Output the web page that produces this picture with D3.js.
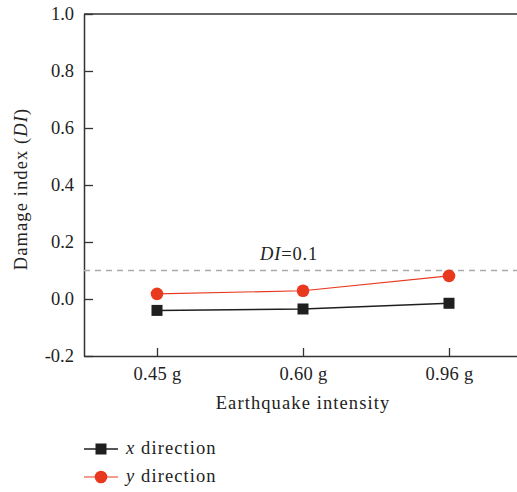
<!DOCTYPE html>
<html><head><meta charset="utf-8">
<script src="https://cdn.jsdelivr.net/npm/d3@7"></script>
<style>
html,body{margin:0;padding:0;background:#fff;}
svg{display:block;}
svg text{font-family:"Liberation Serif","Times New Roman","DejaVu Serif",serif !important;}
</style></head>
<body>
<svg id="chart" width="517" height="492"></svg>
<script>
const categories = ["0.45 g", "0.60 g", "0.96 g"];
const xDirection = [-0.040, -0.035, -0.015];
const yDirection = [0.018, 0.029, 0.081];
const yTicks = [-0.2, 0.0, 0.2, 0.4, 0.6, 0.8, 1.0];
const threshold = 0.1;

(function () {
const svg = d3.select("#chart");
const pL = 84, pR = 522, pT = 14, pB = 356;
const x = d3.scalePoint().domain(categories).range([pL, pR]).padding(0.5);
const y = d3.scaleLinear().domain([-0.2, 1.0]).range([pB, pT]);
const axisColor = "#333";
const fs = 18.5, ls = "1.1px";

// frame (top line)
svg.append("line").attr("x1", pL).attr("x2", 517).attr("y1", pT).attr("y2", pT)
  .attr("stroke", axisColor).attr("stroke-width", 1.5);

// y axis
const gy = svg.append("g").attr("transform", `translate(${pL},0)`)
  .call(d3.axisLeft(y).tickValues(yTicks).tickSizeInner(-9).tickSizeOuter(0).tickPadding(10)
    .tickFormat(d => d3.format(".1f")(d).replace("−", "-")));
gy.attr("font-family", null);
gy.select(".domain").attr("stroke", axisColor).attr("stroke-width", 1.5);
gy.selectAll(".tick line").attr("stroke", axisColor).attr("stroke-width", 1.3);
gy.selectAll(".tick text").attr("font-size", fs).attr("fill", "#222");

// x axis
const gx = svg.append("g").attr("transform", `translate(0,${pB})`)
  .call(d3.axisBottom(x).tickSizeInner(-8).tickSizeOuter(0).tickPadding(11));
gx.attr("font-family", null);
gx.select(".domain").attr("stroke", axisColor).attr("stroke-width", 1.5);
gx.selectAll(".tick line").attr("stroke", axisColor).attr("stroke-width", 1.3);
gx.selectAll(".tick text").attr("font-size", fs).attr("fill", "#222").attr("letter-spacing", "0.3px");

// threshold line
svg.append("line").attr("x1", pL).attr("x2", 517)
  .attr("y1", y(threshold)).attr("y2", y(threshold))
  .attr("stroke", "#aaa").attr("stroke-width", 1.5).attr("stroke-dasharray", "6,5");
const lab = svg.append("text").attr("x", 289).attr("y", y(threshold) - 11)
  .attr("text-anchor", "middle").attr("font-size", fs).attr("fill", "#222").attr("letter-spacing", "0.8px");
lab.append("tspan").attr("font-style", "italic").text("DI");
lab.append("tspan").text("=0.1");

// series
const red = "#e8391f", black = "#1f1f1f";
const line = d3.line().x((d, i) => x(categories[i])).y(d => y(d));
svg.append("path").datum(xDirection).attr("d", line).attr("fill", "none")
  .attr("stroke", black).attr("stroke-width", 1.5);
svg.append("path").datum(yDirection).attr("d", line).attr("fill", "none")
  .attr("stroke", red).attr("stroke-width", 1.2);
const sq = 11;
svg.selectAll(".sq").data(xDirection).enter().append("rect")
  .attr("x", (d, i) => x(categories[i]) - sq / 2).attr("y", d => y(d) - sq / 2)
  .attr("width", sq).attr("height", sq).attr("fill", black);
svg.selectAll(".ci").data(yDirection).enter().append("circle")
  .attr("cx", (d, i) => x(categories[i])).attr("cy", d => y(d)).attr("r", 6.3).attr("fill", red);

// axis titles
svg.append("text").attr("x", 303).attr("y", 409).attr("text-anchor", "middle")
  .attr("font-size", fs).attr("fill", "#222").attr("letter-spacing", ls).text("Earthquake intensity");
const yt = svg.append("text").attr("transform", `translate(27,189) rotate(-90)`)
  .attr("text-anchor", "middle").attr("font-size", fs).attr("fill", "#222").attr("letter-spacing", ls);
yt.append("tspan").text("Damage index (");
yt.append("tspan").attr("font-style", "italic").text("DI");
yt.append("tspan").text(")");

// legend
const legend = [
  {name: "x", color: black, shape: "square", yy: 449, w: 1.5},
  {name: "y", color: red, shape: "circle", yy: 477, w: 1.2}
];
legend.forEach(l => {
  svg.append("line").attr("x1", 84).attr("x2", 118).attr("y1", l.yy).attr("y2", l.yy)
    .attr("stroke", l.color).attr("stroke-width", l.w);
  if (l.shape === "square") {
    svg.append("rect").attr("x", 101 - 5.5).attr("y", l.yy - 5.5).attr("width", 11).attr("height", 11).attr("fill", l.color);
  } else {
    svg.append("circle").attr("cx", 101).attr("cy", l.yy).attr("r", 6.3).attr("fill", l.color);
  }
  const t = svg.append("text").attr("x", 126).attr("y", l.yy + 5).attr("font-size", fs).attr("fill", "#222").attr("letter-spacing", ls);
  t.append("tspan").attr("font-style", "italic").text(l.name);
  t.append("tspan").text(" direction");
});
})();
</script>
</body></html>
